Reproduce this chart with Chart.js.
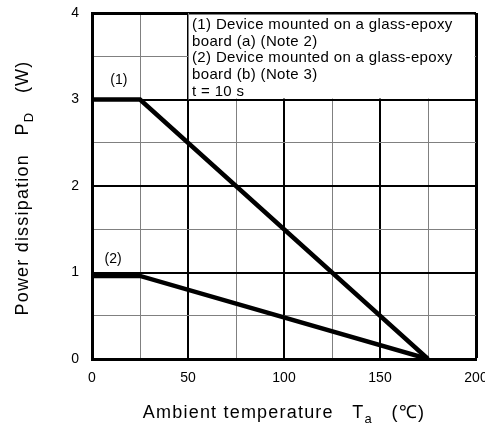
<!DOCTYPE html>
<html>
<head>
<meta charset="utf-8">
<script src="https://cdn.jsdelivr.net/npm/chart.js@4/dist/chart.umd.min.js"></script>
<style>
  html, body { margin: 0; padding: 0; background: #fff; }
  #wrap { width: 485px; height: 427px; position: relative; }
</style>
</head>
<body>
<div id="wrap"><canvas id="chart" width="485" height="427"></canvas></div>
<script>
// curve data
const tempA = [0, 25, 175];
const powerA = [3, 3, 0];
const tempB = [0, 25, 175];
const powerB = [0.96, 0.96, 0];

const xTicks = [0, 50, 100, 150, 200];
const yTicks = [0, 1, 2, 3, 4];

const noteLines = [
    "(1) Device mounted on a glass-epoxy",
    "board (a) (Note 2)",
    "(2) Device mounted on a glass-epoxy",
    "board (b) (Note 3)",
    "t = 10 s"
];

const FONT = "'Liberation Sans', Arial, sans-serif";

function toPoints(xs, ys) {
    return xs.map((x, i) => ({ x: x, y: ys[i] }));
}

// draws text with one subscript part, centered on (0,0)
function drawSubText(ctx, parts, size) {
    ctx.letterSpacing = "1.2px";
    let widths = parts.map(p => {
        ctx.font = (p.sub ? size * 0.72 : size) + "px " + FONT;
        return ctx.measureText(p.t).width;
    });
    let total = widths.reduce((a, b) => a + b, 0);
    let x = -total / 2;
    parts.forEach((p, i) => {
        ctx.font = (p.sub ? size * 0.72 : size) + "px " + FONT;
        ctx.fillText(p.t, x, p.sub ? size * 0.3 : 0);
        x += widths[i];
    });
}

const notesPlugin = {
    id: "notes",
    beforeDatasetsDraw(chart) {
        let ctx = chart.ctx;
        let xs = chart.scales.x, ys = chart.scales.y;
        let l = xs.getPixelForValue(50), r = xs.getPixelForValue(200);
        let t = ys.getPixelForValue(4), b = ys.getPixelForValue(3);
        ctx.save();
        ctx.fillStyle = "#fff";
        ctx.fillRect(l + 1, t + 1.5, r - l - 2.5, b - t - 2.5);
        ctx.strokeStyle = "#808080";
        ctx.lineWidth = 1;
        ctx.beginPath();
        ctx.moveTo(l + 0.5, t);
        ctx.lineTo(l + 0.5, b);
        ctx.stroke();
        ctx.fillStyle = "#000";
        ctx.font = "15px " + FONT;
        ctx.letterSpacing = "0.35px";
        ctx.textBaseline = "middle";
        ctx.textAlign = "left";
        noteLines.forEach((s, i) => ctx.fillText(s, l + 4, t + 12 + i * 16.6));
        ctx.restore();
    },
    afterDraw(chart) {
        let ctx = chart.ctx;
        let xs = chart.scales.x, ys = chart.scales.y;
        ctx.save();
        ctx.fillStyle = "#000";
        ctx.textAlign = "center";
        ctx.textBaseline = "middle";
        ctx.font = "14px " + FONT;
        ctx.fillText("(1)", xs.getPixelForValue(14), ys.getPixelForValue(3.22));
        ctx.fillText("(2)", xs.getPixelForValue(11), ys.getPixelForValue(1.16));

        ctx.textAlign = "left";
        ctx.textBaseline = "alphabetic";
        // x axis title
        ctx.save();
        ctx.translate(284, 418);
        drawSubText(ctx, [{ t: "Ambient temperature   T" }, { t: "a", sub: true }, { t: "   (℃)" }], 18);
        ctx.restore();
        // y axis title
        ctx.save();
        ctx.translate(28, 188);
        ctx.rotate(-Math.PI / 2);
        drawSubText(ctx, [{ t: "Power dissipation   P" }, { t: "D", sub: true }, { t: "   (W)" }], 18);
        ctx.restore();
        ctx.restore();
    }
};

function gridColor(c, major) {
    return c.tick && c.tick.value % major === 0 ? "#000" : "#808080";
}
function gridWidth(c, major, last) {
    if (!c.tick) return 1;
    if (c.tick.value === last) return 3;
    return c.tick.value % major === 0 ? 2 : 1;
}

new Chart(document.getElementById("chart"), {
    type: "line",
    data: {
        datasets: [
            { label: "(1)", data: toPoints(tempA, powerA), borderColor: "#000", borderWidth: 4.5, pointRadius: 0, fill: false },
            { label: "(2)", data: toPoints(tempB, powerB), borderColor: "#000", borderWidth: 4.5, pointRadius: 0, fill: false }
        ]
    },
    options: {
        responsive: false,
        animation: false,
        layout: { padding: { left: 0, right: 9, top: 13, bottom: 0 } },
        plugins: { legend: { display: false }, tooltip: { enabled: false } },
        scales: {
            x: {
                type: "linear", min: 0, max: 200,
                afterFit(s) { s.height = 68; s.paddingLeft = 0; s.paddingRight = 0; },
                afterBuildTicks(s) { s.ticks = [0, 25, 50, 75, 100, 125, 150, 175, 200].map(v => ({ value: v })); },
                ticks: {
                    padding: 11, color: "#000", maxRotation: 0, autoSkip: false,
                    font: { family: FONT, size: 14 },
                    callback: v => xTicks.includes(v) ? String(v) : ""
                },
                grid: {
                    drawTicks: false,
                    color: c => gridColor(c, 50),
                    lineWidth: c => gridWidth(c, 50, 200)
                },
                border: { display: true, color: "#000", width: 3 }
            },
            y: {
                min: 0, max: 4,
                afterFit(s) { s.width = 92; s.paddingTop = 0; s.paddingBottom = 0; },
                afterBuildTicks(s) { s.ticks = [0, 0.5, 1, 1.5, 2, 2.5, 3, 3.5, 4].map(v => ({ value: v })); },
                ticks: {
                    padding: 13, color: "#000", autoSkip: false,
                    font: { family: FONT, size: 14 },
                    callback: v => yTicks.includes(v) ? String(v) : ""
                },
                grid: {
                    drawTicks: false,
                    color: c => gridColor(c, 1),
                    lineWidth: c => gridWidth(c, 1, 4)
                },
                border: { display: true, color: "#000", width: 3 }
            }
        }
    },
    plugins: [notesPlugin]
});
</script>
</body>
</html>
